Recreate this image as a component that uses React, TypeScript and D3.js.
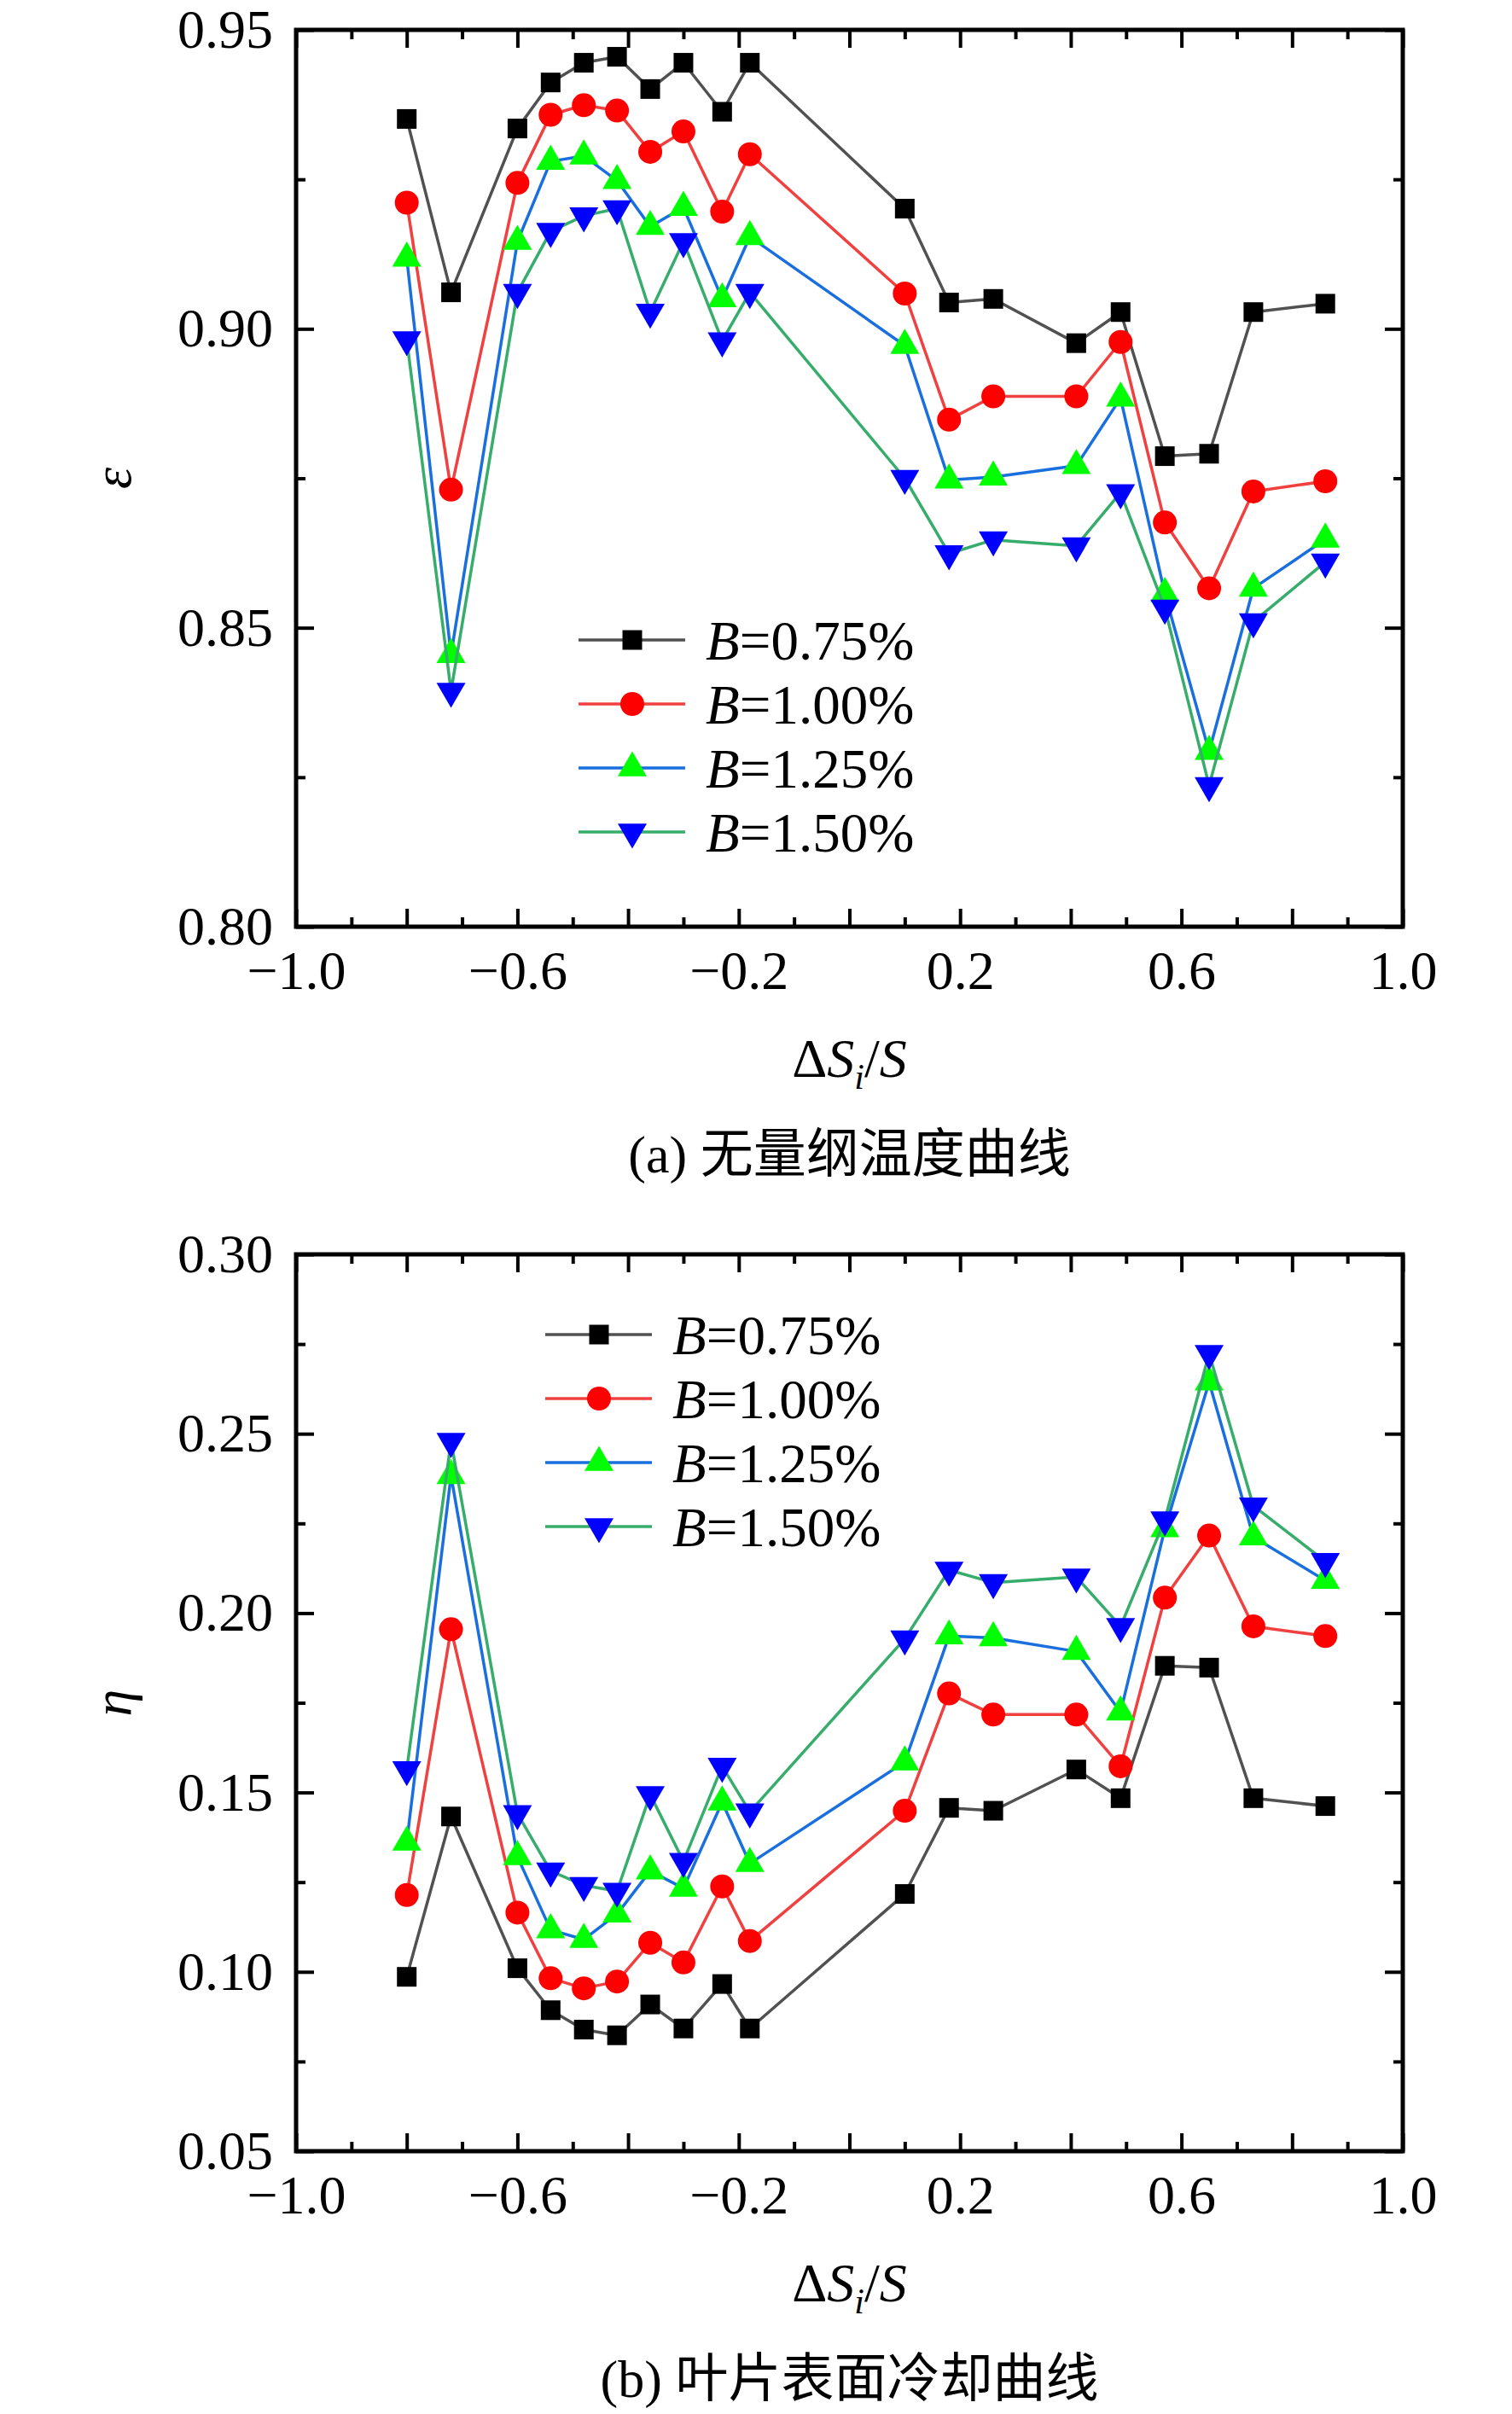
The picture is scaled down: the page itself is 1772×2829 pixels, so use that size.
import { useEffect, useRef } from 'react';
import * as d3 from 'd3';

// Positions along the blade surface (ΔSi/S)
const xPos = [-0.8, -0.72, -0.6, -0.54, -0.48, -0.42, -0.36, -0.3, -0.23, -0.18, 0.1, 0.18, 0.26, 0.41, 0.49, 0.57, 0.65, 0.73, 0.86];

const bLevels = ['0.75%', '1.00%', '1.25%', '1.50%'];

// (a) dimensionless temperature
const epsB075 = [0.9351, 0.9061, 0.9335, 0.9412, 0.9445, 0.9455, 0.9401, 0.9445, 0.9363, 0.9445, 0.9201, 0.9044, 0.905, 0.8976, 0.9028, 0.8787, 0.8791, 0.9028, 0.9042];
const epsB100 = [0.9211, 0.8731, 0.9244, 0.9358, 0.9374, 0.9365, 0.9296, 0.933, 0.9196, 0.9292, 0.9059, 0.8848, 0.8887, 0.8887, 0.8978, 0.8676, 0.8566, 0.8728, 0.8745];
const epsB125 = [0.9118, 0.8455, 0.9146, 0.928, 0.9289, 0.9248, 0.9171, 0.9203, 0.905, 0.9154, 0.8972, 0.8747, 0.8752, 0.8771, 0.8884, 0.8557, 0.8293, 0.8566, 0.8648];
const epsB150 = [0.8982, 0.8394, 0.9061, 0.9163, 0.9189, 0.9201, 0.9028, 0.9146, 0.898, 0.9061, 0.875, 0.8624, 0.8647, 0.8637, 0.8726, 0.8533, 0.8236, 0.851, 0.861];

// (b) surface cooling effectiveness
const etaB075 = [0.0986, 0.1433, 0.101, 0.0893, 0.0839, 0.0823, 0.0909, 0.0842, 0.0966, 0.0842, 0.1217, 0.1457, 0.1449, 0.1564, 0.1484, 0.1853, 0.1848, 0.1484, 0.1462];
const etaB100 = [0.1214, 0.1955, 0.1165, 0.0982, 0.0954, 0.0973, 0.1081, 0.1026, 0.1238, 0.1086, 0.1449, 0.1776, 0.1717, 0.1717, 0.1573, 0.2043, 0.2216, 0.1963, 0.1936];
const etaB125 = [0.1361, 0.2383, 0.1321, 0.1117, 0.109, 0.1161, 0.1281, 0.1233, 0.1473, 0.1302, 0.1585, 0.1936, 0.1931, 0.1893, 0.1724, 0.2235, 0.2644, 0.2212, 0.2091];
const etaB150 = [0.1564, 0.2479, 0.1441, 0.1281, 0.1241, 0.1225, 0.1494, 0.1308, 0.1573, 0.1446, 0.1928, 0.212, 0.2085, 0.2101, 0.1963, 0.226, 0.2724, 0.2299, 0.2144];

const xTickLabels = [-1.0, -0.6, -0.2, 0.2, 0.6, 1.0];
const epsTicks = [0.8, 0.85, 0.9, 0.95];
const etaTicks = [0.05, 0.1, 0.15, 0.2, 0.25, 0.3];

const lineColors = ['#515151', '#F14040', '#1A6FDF', '#37AD6B'];
const markerColors = ['#000000', '#FF0000', '#00FF00', '#0000FF'];

const W = 1772;
const H = 2829;
const FONT = '"Liberation Serif", "Times New Roman", serif';
const CJK = '"Liberation Serif", "Noto Sans CJK SC", serif';

const plotLeft = 347;
const plotRight = 1644;
const plotH = 1051;

type Sel = d3.Selection<SVGGElement, unknown, null, undefined>;

interface PanelOpts {
  top: number;
  yDomain: [number, number];
  yTicks: number[];
  yLabel: string;
  series: number[][];
  legendX: number;
  legendY: number;
  caption: string;
}

const markerPath = (i: number) => {
  if (i === 0) return d3.symbol(d3.symbolSquare, 23 * 23)()!;
  if (i === 1) return d3.symbol(d3.symbolCircle, Math.PI * 14 * 14)()!;
  return d3.symbol(d3.symbolTriangle, 500)()!;
};

function drawMarker(g: Sel, i: number, x: number, y: number) {
  g.append('path')
    .attr('d', markerPath(i))
    .attr('transform', `translate(${x},${y})${i === 3 ? ' rotate(180)' : ''}`)
    .attr('fill', markerColors[i]);
}

function drawPanel(root: Sel, o: PanelOpts) {
  const x = d3.scaleLinear().domain([-1, 1]).range([plotLeft, plotRight]);
  const y = d3.scaleLinear().domain(o.yDomain).range([o.top + plotH, o.top]);
  const g = root.append('g');

  const xMajor = d3.ticks(-1, 1, 10);
  const xMinor = d3.ticks(-1, 1, 20).filter(v => !xMajor.some(m => Math.abs(m - v) < 1e-9));
  const yStep = o.yTicks[1] - o.yTicks[0];
  const yMinor = o.yTicks.slice(0, -1).map(v => v + yStep / 2);
  const fmtX = d3.format('.1f');
  const fmtY = d3.format('.2f');
  const isLabelled = (v: number) => xTickLabels.some(t => Math.abs(t - v) < 1e-9);

  const styleAxis = (a: Sel) => {
    a.select('.domain').remove();
    a.selectAll('line').attr('stroke', '#000').attr('stroke-width', 4);
    a.attr('font-family', FONT).attr('font-size', 64);
    a.selectAll('text').attr('fill', '#000');
  };

  // bottom
  g.append('g').attr('transform', `translate(0,${o.top + plotH})`)
    .call(d3.axisBottom(x).tickValues(xMajor).tickSize(-21).tickPadding(28)
      .tickFormat(d => (isLabelled(+d) ? fmtX(+d) : '')))
    .call(styleAxis);
  g.append('g').attr('transform', `translate(0,${o.top + plotH})`)
    .call(d3.axisBottom(x).tickValues(xMinor).tickSize(-11).tickFormat(() => ''))
    .call(styleAxis);
  // top
  g.append('g').attr('transform', `translate(0,${o.top})`)
    .call(d3.axisTop(x).tickValues(xMajor).tickSize(-21).tickFormat(() => ''))
    .call(styleAxis);
  g.append('g').attr('transform', `translate(0,${o.top})`)
    .call(d3.axisTop(x).tickValues(xMinor).tickSize(-11).tickFormat(() => ''))
    .call(styleAxis);
  // left
  g.append('g').attr('transform', `translate(${plotLeft},0)`)
    .call(d3.axisLeft(y).tickValues(o.yTicks).tickSize(-21).tickPadding(27)
      .tickFormat(d => fmtY(+d)))
    .call(styleAxis);
  g.append('g').attr('transform', `translate(${plotLeft},0)`)
    .call(d3.axisLeft(y).tickValues(yMinor).tickSize(-11).tickFormat(() => ''))
    .call(styleAxis);
  // right
  g.append('g').attr('transform', `translate(${plotRight},0)`)
    .call(d3.axisRight(y).tickValues(o.yTicks).tickSize(-21).tickFormat(() => ''))
    .call(styleAxis);
  g.append('g').attr('transform', `translate(${plotRight},0)`)
    .call(d3.axisRight(y).tickValues(yMinor).tickSize(-11).tickFormat(() => ''))
    .call(styleAxis);

  // series
  const line = d3.line<number>().x((_, i) => x(xPos[i])).y(d => y(d));
  o.series.forEach((vals, s) => {
    g.append('path')
      .attr('d', line(vals))
      .attr('fill', 'none')
      .attr('stroke', lineColors[s])
      .attr('stroke-width', 3.5)
      .attr('stroke-linejoin', 'round');
    vals.forEach((v, i) => drawMarker(g, s, x(xPos[i]), y(v)));
  });

  // frame
  g.append('rect')
    .attr('x', plotLeft).attr('y', o.top)
    .attr('width', plotRight - plotLeft).attr('height', plotH)
    .attr('fill', 'none').attr('stroke', '#000').attr('stroke-width', 5);

  // legend
  bLevels.forEach((b, s) => {
    const ly = o.legendY + s * 75;
    g.append('line')
      .attr('x1', o.legendX).attr('x2', o.legendX + 125)
      .attr('y1', ly).attr('y2', ly)
      .attr('stroke', lineColors[s]).attr('stroke-width', 3.5);
    drawMarker(g, s, o.legendX + 63, ly);
    const t = g.append('text')
      .attr('x', o.legendX + 149).attr('y', ly).attr('dy', '0.35em')
      .attr('font-family', FONT).attr('font-size', 65);
    t.append('tspan').attr('font-style', 'italic').text('B');
    t.append('tspan').text(`=${b}`);
  });

  // y title
  const cy = o.top + plotH / 2;
  g.append('text')
    .attr('transform', `translate(138,${cy}) rotate(-90)`)
    .attr('dy', 15)
    .attr('text-anchor', 'middle')
    .attr('font-family', FONT).attr('font-size', 64).attr('font-style', 'italic')
    .text(o.yLabel);

  // x title ΔSi/S
  const xt = g.append('text')
    .attr('x', (plotLeft + plotRight) / 2).attr('y', o.top + plotH + 176)
    .attr('text-anchor', 'middle')
    .attr('font-family', FONT).attr('font-size', 64);
  xt.append('tspan').text('Δ');
  xt.append('tspan').attr('font-style', 'italic').text('S');
  xt.append('tspan').attr('font-style', 'italic').attr('font-size', 42).attr('dy', 14).text('i');
  xt.append('tspan').attr('dy', -14).text('/');
  xt.append('tspan').attr('font-style', 'italic').text('S');

  // caption
  g.append('text')
    .attr('x', (plotLeft + plotRight) / 2).attr('y', o.top + plotH + 288)
    .attr('text-anchor', 'middle')
    .attr('font-family', CJK).attr('font-size', 62)
    .text(o.caption);
}

export default function App() {
  const svgRef = useRef<SVGSVGElement>(null);

  useEffect(() => {
    if (!svgRef.current) return;
    const svg = d3.select(svgRef.current);
    svg.selectAll('*').remove();
    const root = svg.append('g') as unknown as Sel;

    drawPanel(root, {
      top: 35,
      yDomain: [0.8, 0.95],
      yTicks: epsTicks,
      yLabel: 'ε',
      series: [epsB075, epsB100, epsB125, epsB150],
      legendX: 678,
      legendY: 750,
      caption: '(a) 无量纲温度曲线',
    });

    drawPanel(root, {
      top: 1470,
      yDomain: [0.05, 0.3],
      yTicks: etaTicks,
      yLabel: 'η',
      series: [etaB075, etaB100, etaB125, etaB150],
      legendX: 639,
      legendY: 1564,
      caption: '(b) 叶片表面冷却曲线',
    });
  }, []);

  return (
    <svg
      ref={svgRef}
      width={W}
      height={H}
      style={{ position: 'absolute', left: 0, top: 0, background: '#fff' }}
    />
  );
}
